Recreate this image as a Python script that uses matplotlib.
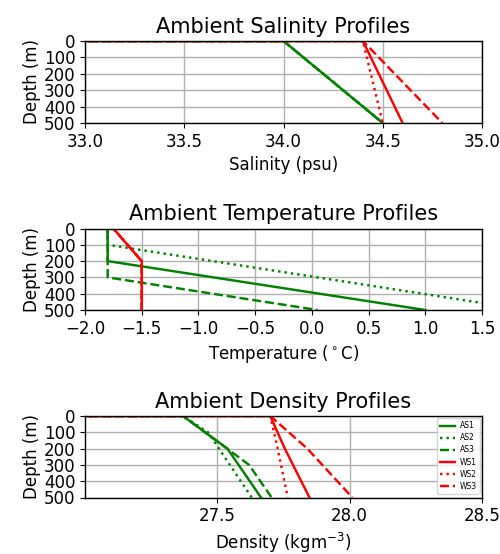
import matplotlib
matplotlib.use("Agg")
import matplotlib.pyplot as plt

# Profiles: each starts with a (0, 0) point as in the original data
labels = ["AS1", "AS2", "AS3", "WS1", "WS2", "WS3"]
colors = ["green", "green", "green", "red", "red", "red"]
styles = ["-", ":", "--", "-", ":", "--"]

# Salinity (psu)
sal_depth = {
    "AS1": [0, 0, 500], "AS2": [0, 0, 500], "AS3": [0, 0, 500],
    "WS1": [0, 0, 500], "WS2": [0, 0, 500], "WS3": [0, 0, 500],
}
sal_vals = {
    "AS1": [0, 34.0, 34.5], "AS2": [0, 34.0, 34.5], "AS3": [0, 34.0, 34.5],
    "WS1": [0, 34.4, 34.6], "WS2": [0, 34.4, 34.5], "WS3": [0, 34.4, 34.8],
}

# Temperature (deg C)
temp_depth = {
    "AS1": [0, 0, 200, 500], "AS2": [0, 0, 100, 500], "AS3": [0, 0, 300, 500],
    "WS1": [0, 0, 200, 500], "WS2": [0, 0, 200, 500], "WS3": [0, 0, 200, 500],
}
temp_vals = {
    "AS1": [0, -1.8, -1.8, 1.0], "AS2": [0, -1.8, -1.8, 1.9], "AS3": [0, -1.8, -1.8, 0.05],
    "WS1": [0, -1.75, -1.5, -1.5], "WS2": [0, -1.75, -1.5, -1.5], "WS3": [0, -1.75, -1.5, -1.5],
}

# Density (kg m^-3)
dens_depth = {
    "AS1": [0, 0, 200, 500], "AS2": [0, 0, 100, 500], "AS3": [0, 0, 300, 500],
    "WS1": [0, 0, 200, 500], "WS2": [0, 0, 200, 500], "WS3": [0, 0, 200, 500],
}
dens_vals = {
    "AS1": [0, 27.37, 27.538, 27.665], "AS2": [0, 27.37, 27.465, 27.63],
    "AS3": [0, 27.37, 27.62, 27.705],
    "WS1": [0, 27.70, 27.755, 27.848], "WS2": [0, 27.70, 27.728, 27.766],
    "WS3": [0, 27.70, 27.84, 28.01],
}

depth_ticks = [0, 100, 200, 300, 400, 500]
sal_ticks = [33.0, 33.5, 34.0, 34.5, 35.0]
temp_ticks = [-2.0, -1.5, -1.0, -0.5, 0.0, 0.5, 1.0, 1.5]
dens_ticks = [27.5, 28.0, 28.5]

fig = plt.figure(figsize=(5.0, 5.54), dpi=100)
W, H = 500, 554
def pos(l, t, r, b):
    return [l / W, 1 - b / H, (r - l) / W, (b - t) / H]

ax1 = fig.add_axes(pos(85, 41, 482, 123))
ax2 = fig.add_axes(pos(85, 228.5, 482, 310))
ax3 = fig.add_axes(pos(85, 416, 482, 497.5))

panels = [
    (ax1, sal_vals, sal_depth, (33.0, 35.0), sal_ticks, "Salinity (psu)", "Ambient Salinity Profiles"),
    (ax2, temp_vals, temp_depth, (-2.0, 1.5), temp_ticks, "Temperature ($^\\circ$C)", "Ambient Temperature Profiles"),
    (ax3, dens_vals, dens_depth, (27.0, 28.5), dens_ticks, "Density (kgm$^{-3}$)", "Ambient Density Profiles"),
]

for ax, vals, dep, xl, xt, xlabel, title in panels:
    for lab, c, s in zip(labels, colors, styles):
        ax.plot(vals[lab], dep[lab], color=c, linestyle=s, linewidth=1.75, label=lab)
    ax.set_xlim(*xl)
    ax.set_ylim(500, 0)
    ax.set_xticks(xt)
    ax.set_yticks(depth_ticks)
    ax.grid(True, color="#b0b0b0", linewidth=1.0)
    ax.set_axisbelow(True)
    ax.tick_params(labelsize=12)
    ax.set_xlabel(xlabel, fontsize=12)
    ax.set_ylabel("Depth (m)", fontsize=12, labelpad=2)
    ax.set_title(title, fontsize=15)
    for sp in ax.spines.values():
        sp.set_linewidth(1.0)

ax3.legend(loc="upper right", fontsize=5.5, handlelength=2.0, handletextpad=0.6,
           borderpad=0.4, labelspacing=0.4, borderaxespad=0.3)

fig.savefig("out.png", dpi=100)
